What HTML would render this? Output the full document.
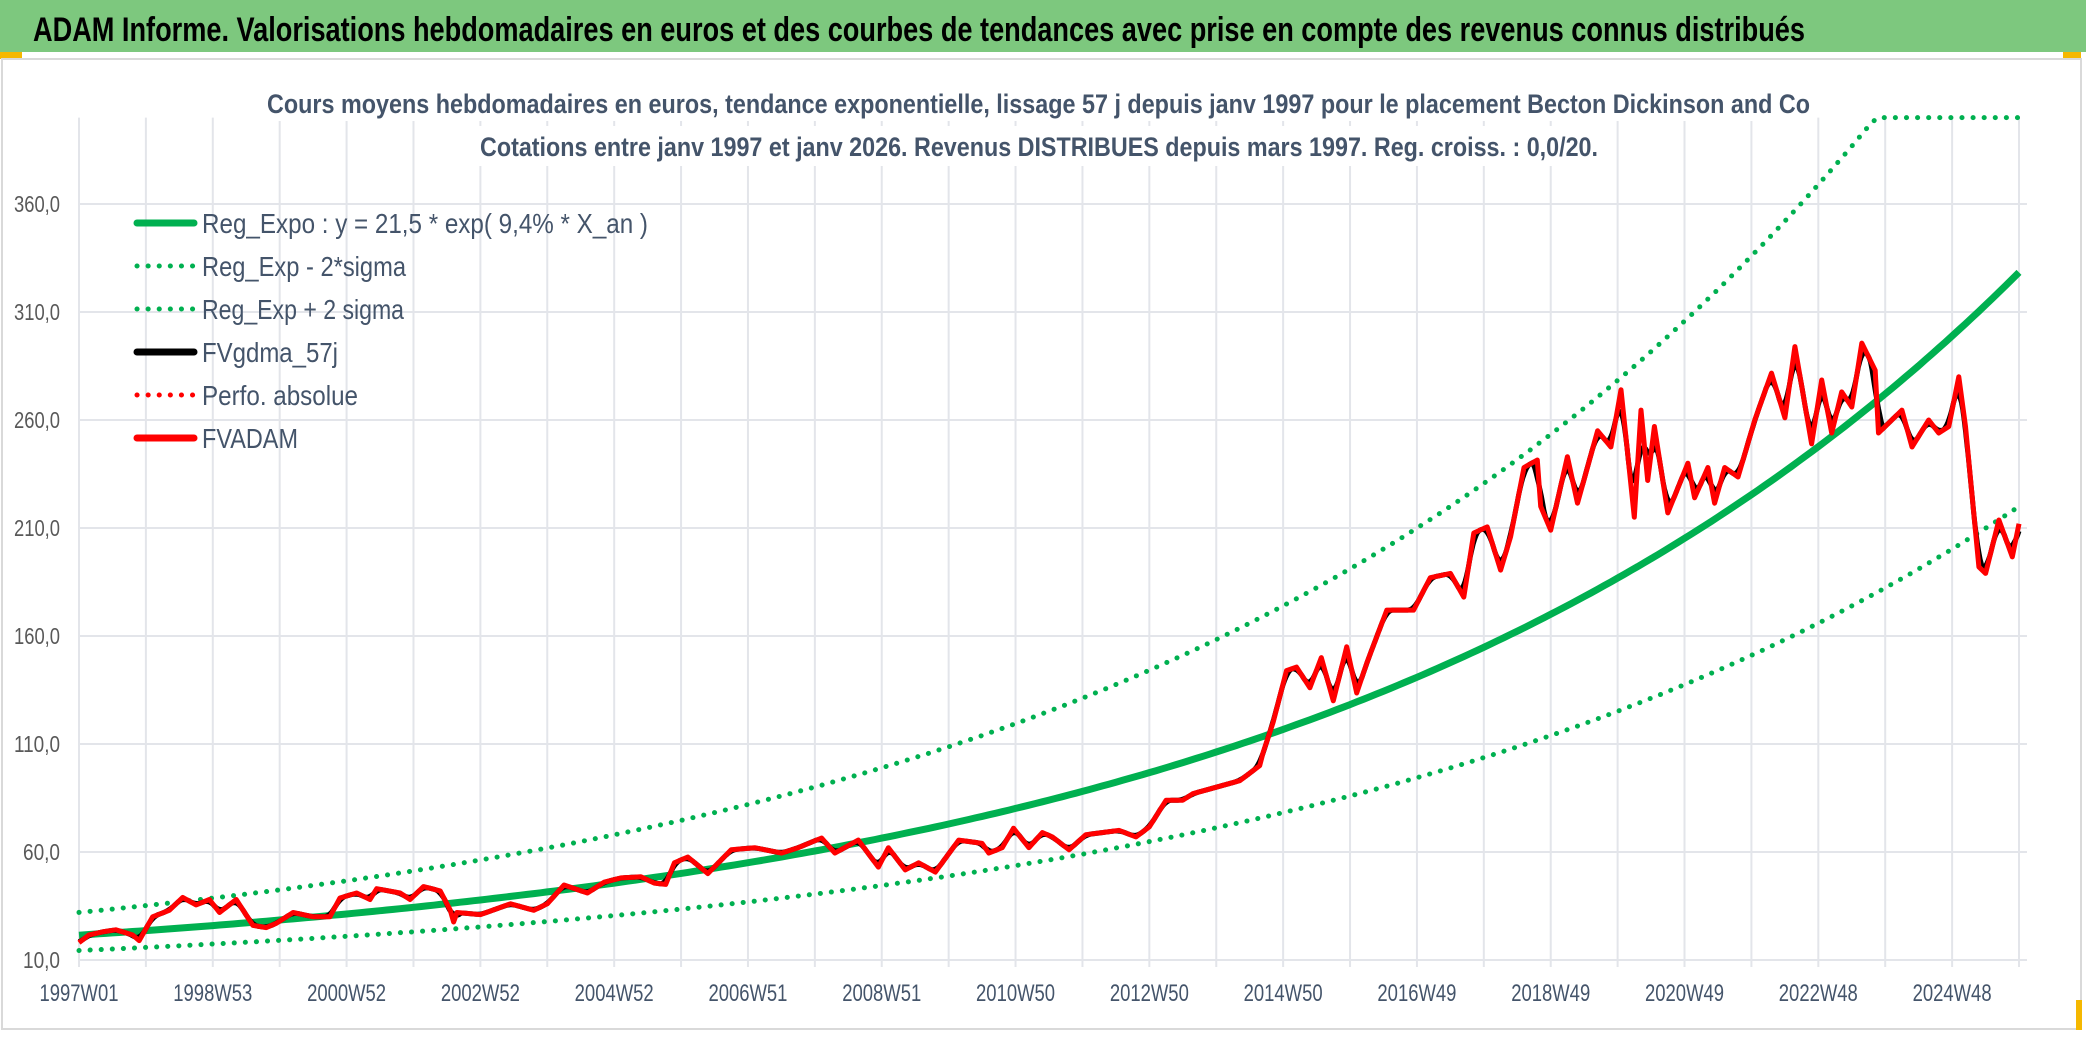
<!DOCTYPE html>
<html><head><meta charset="utf-8"><style>
html,body{margin:0;padding:0;background:#fff;}
svg{display:block;font-family:"Liberation Sans Narrow","Liberation Sans",sans-serif;}
</style></head><body>
<svg id="chart" width="2086" height="1037" viewBox="0 0 2086 1037">
<rect x="0" y="0" width="2086" height="1037" fill="#ffffff"/>
<rect x="0" y="0" width="2086" height="52" fill="#7dc87e"/>
<text x="33" y="41" font-size="34" font-weight="bold" fill="#000" textLength="1772" lengthAdjust="spacingAndGlyphs">ADAM Informe. Valorisations hebdomadaires en euros et des courbes de tendances avec prise en compte des revenus connus distribués</text>
<rect x="0" y="52" width="22" height="7" fill="#f5b800"/>
<rect x="2063" y="52" width="18" height="7" fill="#f5b800"/>
<rect x="2" y="59" width="2079" height="970" fill="none" stroke="#d9d9d9" stroke-width="2"/>
<rect x="2076" y="1000" width="6" height="30" fill="#f5b800"/>
<g id="grid"></g>
<g id="axes"></g>
<g id="series"></g>
<rect x="265" y="86" width="1550" height="35" fill="#fff"/>
<rect x="478" y="126" width="1124" height="40" fill="#fff"/>
<text x="267" y="113" font-size="27" font-weight="bold" fill="#44546a" textLength="1543" lengthAdjust="spacingAndGlyphs">Cours moyens hebdomadaires en euros, tendance exponentielle, lissage 57 j depuis janv 1997 pour le placement Becton Dickinson and Co</text>
<text x="480" y="156" font-size="27" font-weight="bold" fill="#44546a" textLength="1118" lengthAdjust="spacingAndGlyphs">Cotations entre janv 1997 et janv 2026. Revenus DISTRIBUES depuis mars 1997. Reg. croiss. : 0,0/20.</text>
<g id="legend"></g>
</svg>
<script>
// ---- data ----
const yTickValues = [10, 60, 110, 160, 210, 260, 310, 360];
const yTickLabels = ["10,0","60,0","110,0","160,0","210,0","260,0","310,0","360,0"];
const xTickLabels = ["1997W01","1998W53","2000W52","2002W52","2004W52","2006W51","2008W51","2010W50","2012W50","2014W50","2016W49","2018W49","2020W49","2022W48","2024W48"];
const regA = 21.5;
const regRate = 0.094;
const bandUp = 1.49;
const bandDown = 0.67;
const axisMax = 400;
const priceYears = [1997.0,1997.15,1997.35,1997.55,1997.8,1997.9,1998.1,1998.35,1998.55,1998.75,1998.95,1999.1,1999.35,1999.6,1999.8,1999.95,2000.2,2000.5,2000.75,2000.9,2001.15,2001.35,2001.45,2001.8,2001.95,2002.15,2002.4,2002.55,2002.6,2002.65,2003.0,2003.45,2003.8,2004.0,2004.25,2004.6,2004.85,2005.1,2005.4,2005.6,2005.77,2005.9,2006.1,2006.4,2006.75,2007.1,2007.5,2007.75,2008.1,2008.3,2008.65,2008.95,2009.1,2009.35,2009.55,2009.8,2010.15,2010.5,2010.6,2010.8,2010.97,2011.2,2011.4,2011.55,2011.8,2012.05,2012.55,2012.8,2013.0,2013.25,2013.5,2013.65,2014.0,2014.35,2014.65,2014.7,2014.85,2015.05,2015.2,2015.4,2015.57,2015.75,2015.95,2016.1,2016.25,2016.55,2016.95,2017.2,2017.5,2017.7,2017.85,2018.05,2018.25,2018.4,2018.6,2018.8,2018.85,2019.0,2019.25,2019.4,2019.7,2019.9,2020.05,2020.25,2020.35,2020.45,2020.55,2020.75,2021.05,2021.15,2021.35,2021.45,2021.6,2021.8,2022.05,2022.3,2022.5,2022.65,2022.9,2023.05,2023.2,2023.35,2023.5,2023.65,2023.85,2023.9,2024.25,2024.4,2024.65,2024.8,2024.95,2025.1,2025.2,2025.4,2025.5,2025.7,2025.9,2026.0];
const priceValues = [18,21.6,23,24,21.6,19,30,33,39,35.5,38,32,38,26,25,27,32,30,30,38.7,41,38,43,41,38,44,42,33,27.6,32,31,36,33,36,44.7,41,46,48,48.5,45.6,45,55,57.7,50,61,62,59.5,62,66.5,59.5,65.5,53,62,51.7,55,50.7,65.5,64,59.5,62,71,62,69,67,61,68,70,67,71.6,84,84,87,90,93,100,106,120,144,145.6,136,150,130,155,133.6,147.5,172,172,187,189,178,207.7,210.5,190.5,206,238,241.5,220,209,243,221.5,255,247.5,274,215,264.6,232,257,217,240,224,238,221.5,238,233.6,260,281.7,261,294,249,278.5,254,273,266,295.6,283,254,264.6,247.5,260,254,257,280,257,192,189,213.7,196.6,212];

// ---- scales ----
const X0 = 79, X1 = 2019, Y0 = 960, PX_PER_UNIT = 2.16;
const yearStart = 1997, yearEnd = 2026;
function xs(yr){ return X0 + (yr - yearStart) * (X1 - X0) / (yearEnd - yearStart); }
function ys(v){ return Y0 - (v - 10) * PX_PER_UNIT; }
const NS = "http://www.w3.org/2000/svg";
function mk(tag, parent){ const e = document.createElementNS(NS, tag); parent.appendChild(e); return e; }

// grid
const grid = document.getElementById('grid');
for (let k = 0; k <= 29; k++) {
  const x = xs(yearStart + k);
  const l = mk('line', grid);
  
  
  l.setAttribute('x1', x); l.setAttribute('x2', x);
  l.setAttribute('y1', ys(axisMax)); l.setAttribute('y2', 967);
  l.setAttribute('stroke', '#e3e5ea'); l.setAttribute('stroke-width', '2');
}
const axes = document.getElementById('axes');
yTickValues.forEach((v, i) => {
  const l = mk('line', grid);
  
  
  l.setAttribute('x1', X0); l.setAttribute('x2', 2027);
  l.setAttribute('y1', ys(v)); l.setAttribute('y2', ys(v));
  l.setAttribute('stroke', '#e3e5ea'); l.setAttribute('stroke-width', '2');
  const t = mk('text', axes);
  
  
  t.setAttribute('x', 60); t.setAttribute('y', ys(v) + 8);
  t.setAttribute('text-anchor', 'end'); t.setAttribute('font-size', '23');
  t.setAttribute('fill', '#595959');
  t.setAttribute('textLength', yTickLabels[i].length === 5 ? 46 : 37);
  t.setAttribute('lengthAdjust', 'spacingAndGlyphs');
  t.textContent = yTickLabels[i];
});
xTickLabels.forEach((lab, i) => {
  const t = mk('text', axes);
  
  
  t.setAttribute('x', xs(yearStart + 2 * i)); t.setAttribute('y', 1001);
  t.setAttribute('text-anchor', 'middle'); t.setAttribute('font-size', '24');
  t.setAttribute('fill', '#44546a');
  t.setAttribute('textLength', 79);
  t.setAttribute('lengthAdjust', 'spacingAndGlyphs');
  t.textContent = lab;
});

// series
const series = document.getElementById('series');
function trendPts(mult){
  const p = [];
  for (let yr = yearStart; yr <= yearEnd + 1e-9; yr += 0.1) {
    const v = Math.min(axisMax, regA * Math.exp(regRate * (yr - yearStart)) * mult);
    p.push(xs(yr).toFixed(1) + ',' + ys(v).toFixed(1));
  }
  return p.join(' ');
}
const bandU = mk('polyline', series);


bandU.setAttribute('points', trendPts(bandUp));
bandU.setAttribute('fill', 'none'); bandU.setAttribute('stroke', '#00b050');
bandU.setAttribute('stroke-width', '5'); bandU.setAttribute('stroke-dasharray', '0.1 11');
bandU.setAttribute('stroke-linecap', 'round');
const bandL = mk('polyline', series);


bandL.setAttribute('points', trendPts(bandDown));
bandL.setAttribute('fill', 'none'); bandL.setAttribute('stroke', '#00b050');
bandL.setAttribute('stroke-width', '5'); bandL.setAttribute('stroke-dasharray', '0.1 11');
bandL.setAttribute('stroke-linecap', 'round');
const reg = mk('polyline', series);


reg.setAttribute('points', trendPts(1));
reg.setAttribute('fill', 'none'); reg.setAttribute('stroke', '#00b050');
reg.setAttribute('stroke-width', '7');

// moving average (derived from price data)
function interp(yr){
  if (yr <= priceYears[0]) return priceValues[0];
  for (let i = 1; i < priceYears.length; i++) {
    if (yr <= priceYears[i]) {
      const f = (yr - priceYears[i-1]) / (priceYears[i] - priceYears[i-1]);
      return priceValues[i-1] + f * (priceValues[i] - priceValues[i-1]);
    }
  }
  return priceValues[priceValues.length - 1];
}
const maPts = [];
for (let yr = yearStart; yr <= yearEnd + 1e-9; yr += 0.02) {
  let s = 0, n = 0;
  for (let d = -0.08; d <= 0.08 + 1e-9; d += 0.02) { s += interp(Math.min(yearEnd, Math.max(yearStart, yr + d))); n++; }
  maPts.push(xs(yr).toFixed(1) + ',' + ys(s / n).toFixed(1));
}
const ma = mk('polyline', series);


ma.setAttribute('points', maPts.join(' '));
ma.setAttribute('fill', 'none'); ma.setAttribute('stroke', '#000');
ma.setAttribute('stroke-width', '5');

const price = mk('polyline', series);


price.setAttribute('points', priceYears.map((y, i) => xs(y).toFixed(1) + ',' + ys(priceValues[i]).toFixed(1)).join(' '));
price.setAttribute('fill', 'none'); price.setAttribute('stroke', '#ff0000');
price.setAttribute('stroke-width', '5'); price.setAttribute('stroke-linejoin', 'round');

// legend
const legend = document.getElementById('legend');
const legendLabels = ["Reg_Expo : y = 21,5 * exp( 9,4% *  X_an )", "Reg_Exp - 2*sigma", "Reg_Exp + 2 sigma", "FVgdma_57j", "Perfo. absolue", "FVADAM"];
const legendColors = ["#00b050", "#00b050", "#00b050", "#000000", "#ff0000", "#ff0000"];
const legendDotted = [false, true, true, false, true, false];
const legendNames = ["legend-reg-expo", "legend-minus-2-sigma", "legend-plus-2-sigma", "legend-fvgdma", "legend-perfo-absolue", "legend-fvadam"];
const legendWidths = [446, 204, 202, 136, 156, 96];
const legendRowY = [223, 266, 309, 352, 395, 438];
legendLabels.forEach((lab, i) => {
  const g = mk('g', legend);
  
  
  const l = mk('line', g);
  
  
  l.setAttribute('x1', 137); l.setAttribute('x2', 194);
  l.setAttribute('y1', legendRowY[i]); l.setAttribute('y2', legendRowY[i]);
  l.setAttribute('stroke', legendColors[i]);
  l.setAttribute('stroke-linecap', 'round');
  if (legendDotted[i]) { l.setAttribute('stroke-width', '5'); l.setAttribute('stroke-dasharray', '0.1 11'); }
  else { l.setAttribute('stroke-width', '7'); }
  const t = mk('text', g);
  
  
  t.setAttribute('x', 202); t.setAttribute('y', legendRowY[i] + 10);
  t.setAttribute('font-size', '28'); t.setAttribute('fill', '#44546a');
  t.setAttribute('textLength', legendWidths[i]);
  t.setAttribute('lengthAdjust', 'spacingAndGlyphs');
  t.textContent = lab;
});
</script>
</body></html>
